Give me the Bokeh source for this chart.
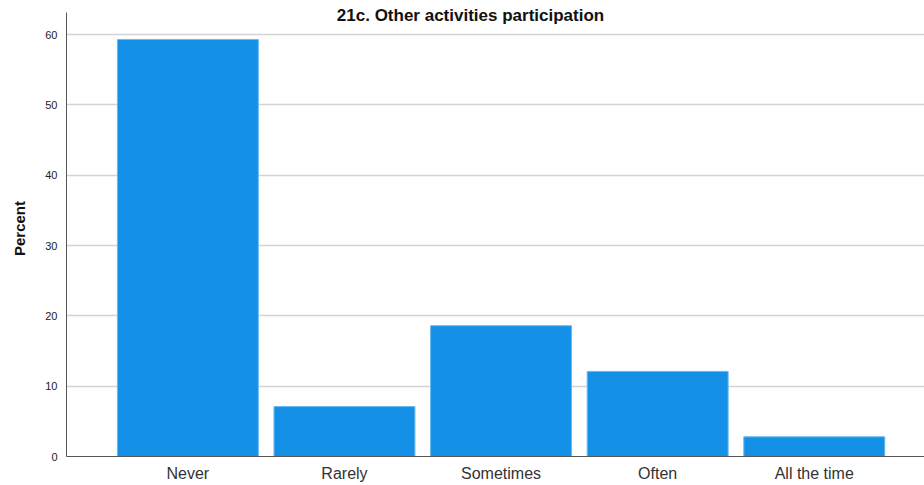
from bokeh.plotting import figure
from bokeh.models import Range1d, FixedTicker, Label
from bokeh.embed import file_html
from bokeh.resources import INLINE

categories = ["Never", "Rarely", "Sometimes", "Often", "All the time"]
percent = [59.3, 7.1, 18.6, 12.1, 2.8]
y_ticks = [0, 10, 20, 30, 40, 50, 60]
title_text = "21c. Other activities participation"

xs = list(range(len(categories)))

p = figure(width=924, height=485, output_backend="svg", toolbar_location=None,
           x_range=Range1d(-0.775, 4.704), y_range=Range1d(0, 64.84),
           min_border_left=66, min_border_right=0, min_border_top=0, min_border_bottom=29)
p.outline_line_color = None
p.background_fill_color = "white"
p.border_fill_color = "white"

p.vbar(x=xs, top=percent, width=0.9, fill_color="#1490e6", line_color="#6ab8f0", line_width=1)

p.xgrid.visible = False
p.ygrid.grid_line_color = "#d4d4d4"
p.ygrid.grid_line_width = 1.5
p.yaxis.ticker = FixedTicker(ticks=y_ticks)
p.xaxis.ticker = FixedTicker(ticks=xs)
p.xaxis.major_label_overrides = {i: c for i, c in enumerate(categories)}
p.yaxis.bounds = (0, 63.1)

for ax in (p.xaxis[0], p.yaxis[0]):
    ax.axis_line_color = "#555555"
    ax.axis_line_width = 1
    ax.major_tick_line_color = None
    ax.minor_tick_line_color = None
    ax.major_tick_out = 0
    ax.major_tick_in = 0
    ax.minor_tick_out = 0
    ax.major_label_text_font = "Liberation Sans"
    ax.major_label_text_color = "#222222"

p.xaxis.major_label_text_font_size = "16px"
p.xaxis.major_label_text_color = "#333333"
p.xaxis.major_label_standoff = 8
p.yaxis.major_label_text_font_size = "11px"
p.yaxis.major_label_standoff = 9
p.yaxis.axis_label = "Percent"
p.yaxis.axis_label_text_font = "Liberation Sans"
p.yaxis.axis_label_text_font_size = "15px"
p.yaxis.axis_label_text_font_style = "bold"
p.yaxis.axis_label_text_color = "#111111"
p.yaxis.axis_label_standoff = 14

p.add_layout(Label(x=404, y=441, x_units="screen", y_units="screen", text=title_text,
                   text_font="Liberation Sans", text_font_style="bold", text_font_size="17px",
                   text_align="center", text_baseline="alphabetic", text_color="#111111"))

open("out.html", "w").write(file_html(p, INLINE))
